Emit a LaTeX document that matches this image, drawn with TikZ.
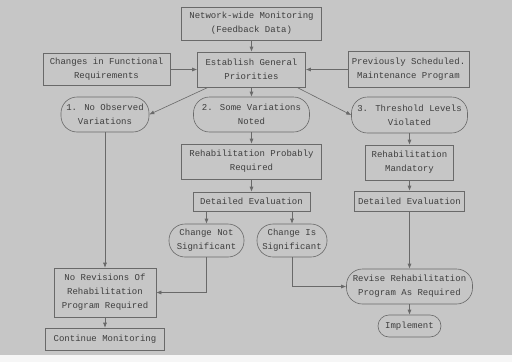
\documentclass[tikz,border=0pt]{standalone}
\usepackage{fontspec}
\newfontfamily\typewr{Liberation Mono}
\usepackage{xcolor}
\usepackage{tikz}
\usetikzlibrary{arrows.meta}
\definecolor{paper}{RGB}{198,198,198}
\definecolor{ink}{RGB}{62,62,62}
\definecolor{frame}{RGB}{105,105,105}

\begin{document}
\begin{tikzpicture}[x=1pt,y=-1pt,
	box/.style={draw=frame,line width=0.6pt,inner sep=0pt,align=center,text=ink,
		font=\typewr\fontsize{9}{14}\selectfont},
	oval/.style={box,rounded corners=16pt},
	flow/.style={draw=frame,line width=0.6pt,-{Latex[length=5pt,width=4pt]}}]
	% sheet
	\fill[paper] (0,0) rectangle (512,362);
	\fill[white!85!paper] (0,355) rectangle (512,362);
	\useasboundingbox (0,0) rectangle (512,362);

	% top row
	\node (mon) at(251.5,23.5)[box,minimum width=140pt,minimum height=33pt]{Network-wide Monitoring\\(Feedback Data)};
	\node (est) at(251.5,69.5)[box,minimum width=108pt,minimum height=35pt]{Establish General\\Priorities};
	\node (chg) at(106.5,69.5)[box,minimum width=127pt,minimum height=32pt]{Changes in Functional\\Requirements};
	\node (prev) at(408.5,69.5)[box,minimum width=121pt,minimum height=36pt]{Previously Scheduled.\\Maintenance Program};

	% three cases
	\node (v1) at(105,114.5)[oval,minimum width=88pt,minimum height=35pt]{1. No Observed\\Variations};
	\node (v2) at(251.5,114.5)[oval,minimum width=116pt,minimum height=35pt]{2. Some Variations\\Noted};
	\node (v3) at(409.5,115)[oval,minimum width=116pt,minimum height=36pt]{3. Threshold Levels\\Violated};

	% middle column
	\node (rp) at(251.5,161.5)[box,minimum width=140pt,minimum height=35pt]{Rehabilitation Probably\\Required};
	\node (de1) at(251.5,201.5)[box,minimum width=117pt,minimum height=19pt]{Detailed Evaluation};
	\node (cn) at(206.5,240.5)[oval,minimum width=75pt,minimum height=33pt]{Change Not\\Significant};
	\node (ci) at(292,240.5)[oval,minimum width=70pt,minimum height=33pt]{Change Is\\Significant};

	% right column
	\node (rm) at(409.5,162.5)[box,minimum width=88pt,minimum height=35pt]{Rehabilitation\\Mandatory};
	\node (de2) at(409.5,201)[box,minimum width=110pt,minimum height=20pt]{Detailed Evaluation};
	\node (rv) at(409.5,286.5)[oval,minimum width=126pt,minimum height=35pt]{Revise Rehabilitation\\Program As Required};
	\node (im) at(409.5,326)[oval,minimum width=63pt,minimum height=22pt,rounded corners=11pt]{Implement};

	% left column
	\node (nr) at(105,292.5)[box,minimum width=102pt,minimum height=49pt]{No Revisions Of\\Rehabilitation\\Program Required};
	\node (cm) at(105,339)[box,minimum width=119pt,minimum height=22pt]{Continue Monitoring};

	% connectors
	\draw[flow] (mon) -- (est);
	\draw[flow] (chg) -- (est);
	\draw[flow] (prev) -- (est);
	\draw[flow] ([xshift=11pt]est.south west) -- (v1.east);
	\draw[flow] (est) -- (v2);
	\draw[flow] ([xshift=-9pt]est.south east) -- (v3.west);
	\draw[flow] (v2) -- (rp);
	\draw[flow] (rp) -- (de1);
	\draw[flow] (de1.south -| cn) -- (cn);
	\draw[flow] (de1.south -| ci) -- (ci);
	\draw[flow] (v3) -- (rm);
	\draw[flow] (rm) -- (de2);
	\draw[flow] (de2) -- (rv);
	\draw[flow] (rv) -- (im);
	\draw[flow] (v1) -- (nr);
	\draw[flow] (nr) -- (cm);
	\draw[flow] (cn) |- (nr);
	\draw[flow] (ci) |- (rv);
\end{tikzpicture}
\end{document}
